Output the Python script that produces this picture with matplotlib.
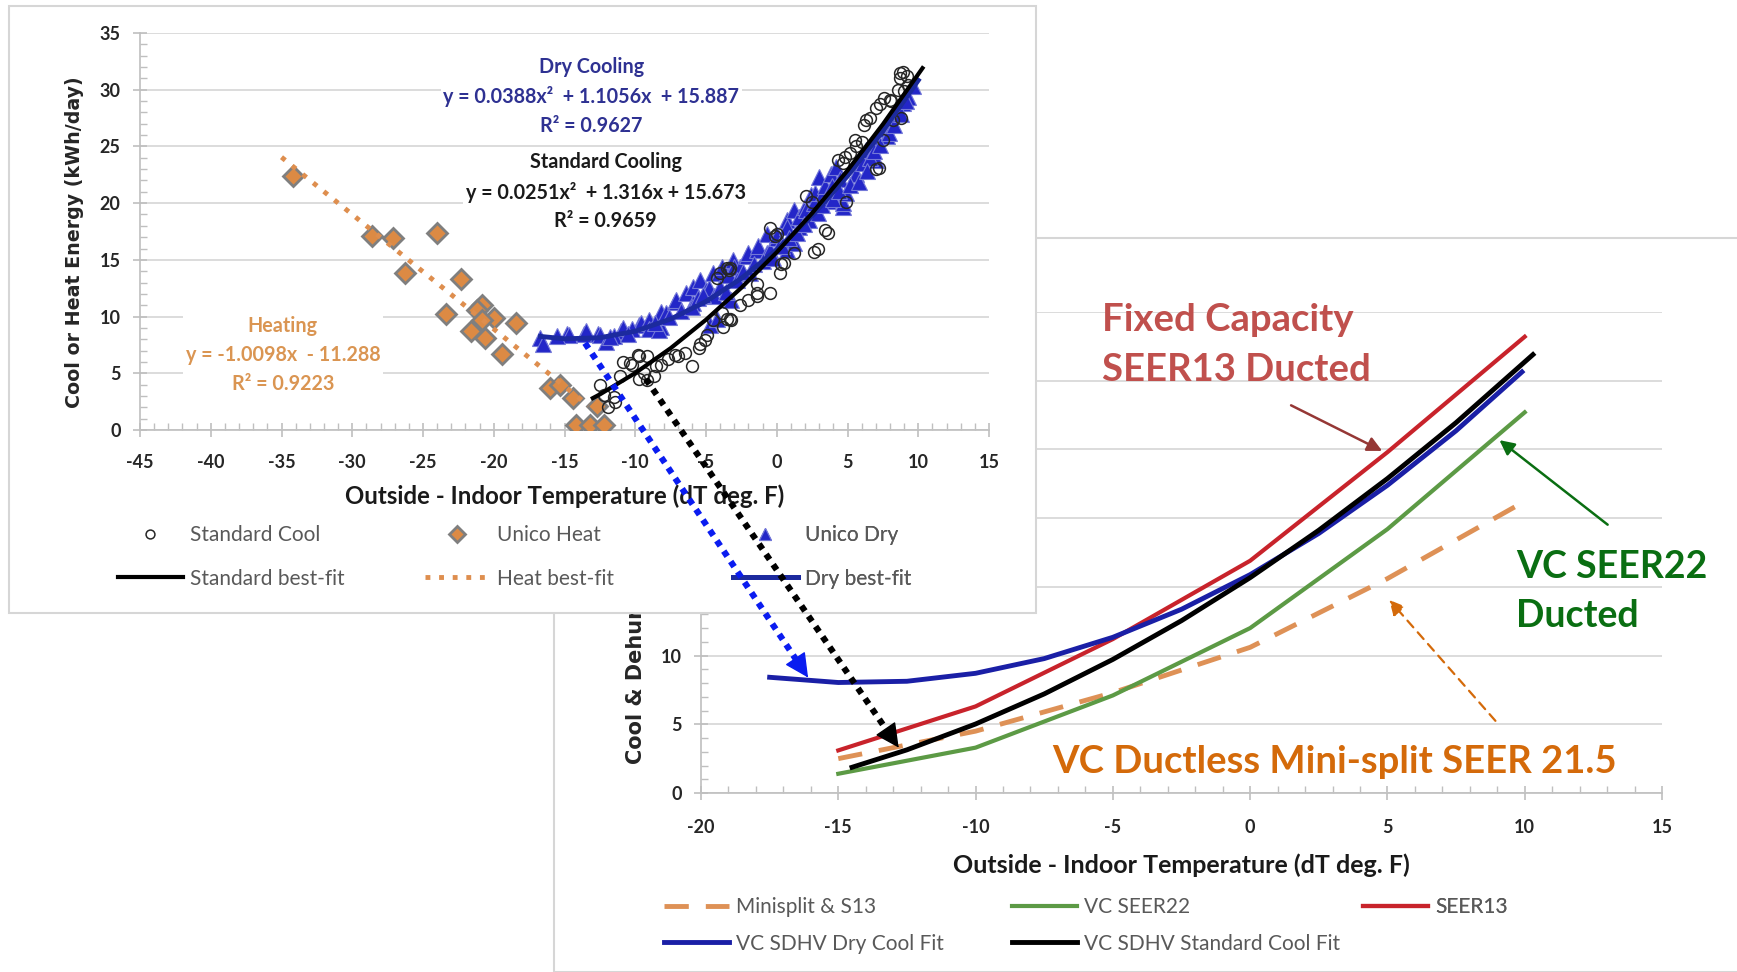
import numpy as np
import matplotlib
matplotlib.use("Agg")
import matplotlib.pyplot as plt
from matplotlib.patches import Rectangle, ConnectionPatch

plt.rcParams['font.family'] = ['Lato', 'DejaVu Sans']
plt.rcParams['axes.unicode_minus'] = False

# ---------------- left chart (measured data) ----------------
std_cool_x = [-12.5, -11.4, -11.5, -11.1, -10.9, -10.4, -10.2, -9.8, -9.7, -9.2, -9.7, -9.4,
              -9.2, -8.7, -8.5, -8.2, -7.7, -7.2, -7.0, -6.5, -6.0, -5.5, -5.4, -5.1, -4.9,
              -4.5, -3.9, -3.8, -3.5, -3.3, -3.2, -2.6, -2.0, -1.4, -1.4, -0.5, -1.4, -4.2,
              -4.0, -3.5, -3.4, -3.3, 0.2, 0.5, 0.3, 1.2, -0.5, -0.1, 0.0, 2.1, 2.5, 2.6,
              2.9, 3.4, 3.6, 4.3, 4.7, 4.8, 5.2, 5.5, 5.6, 6.0, 6.2, 6.3, 6.6, 7.0, 7.3,
              7.6, 8.0, 8.1, 8.2, 8.8, 7.5, 7.2, 7.0, 4.9, 8.6, 8.7, 8.9, 9.2, 9.3, 9.0, 8.7,
              -12.2, -11.9]
std_cool_y = [3.95, 2.5, 2.9, 4.8, 6.0, 5.9, 5.7, 6.6, 6.5, 6.5, 4.5, 5.0,
              4.4, 4.8, 5.6, 5.7, 6.3, 6.6, 6.5, 6.8, 5.6, 7.2, 7.6, 7.9, 8.4,
              9.7, 10.3, 9.1, 9.8, 9.8, 9.7, 11.0, 11.5, 11.8, 12.1, 12.1, 12.9, 13.4,
              13.8, 14.3, 14.1, 14.3, 13.8, 14.7, 14.6, 15.6, 17.8, 17.1, 17.3, 20.6, 20.1, 15.7,
              16.0, 17.6, 17.4, 23.8, 23.5, 24.1, 24.4, 25.6, 25.0, 25.4, 26.9, 27.3, 27.5, 28.4, 28.7,
              29.3, 29.1, 29.0, 27.3, 27.5, 25.6, 23.1, 23.0, 20.1, 30.0, 31.0, 31.6, 31.2, 30.4, 29.9, 31.5,
              3.1, 2.0]

dry_x = [-16.7, -16.5, -14.8, -14.7, -13.6, -13.5, -12.6, -12.5, -12.1, -11.0, -10.9, -9.7, -9.6,
         -9.0, -8.2, -8.2, -7.8, -7.2, -7.1, -6.4, -5.9, -5.4, -5.0, -4.8, -4.4, -4.5, -4.1, -3.9,
         -3.4, -3.2, -3.1, -3.0, -2.6, -2.1, -2.0, -1.9, -1.4, -1.3, -0.7, -0.7, -0.5, 0.0, 0.0,
         0.7, 0.7, 0.7, 1.2, 1.2, 1.6, 1.6, 2.0, 2.1, 2.3, 2.4, 2.6, 2.7, 3.0, 3.3, 3.4, 3.8,
         3.9, 4.2, 4.5, 4.7, 4.7, 4.9, 5.6, 6.1, 6.3, 6.8, 7.0, 7.5, 8.0, 8.5, 8.9, 9.3, 9.6,
         -6.8, -9.0, -11.5, -10.2, -8.3, -4.7, -4.2, -5.9, 0.3, 3.6, 6.6, 7.8,
         -6.0, -5.6, -5.2, -4.0, -3.6, -2.8, -2.4, -1.6, -1.0, -0.3, 0.4, 0.9, 1.4, 1.9,
         2.9, 3.2, 4.0, 4.4, 5.2, 5.8, 6.4, 6.9, 7.3, 7.9, 8.3, 8.8, 9.1, -7.6, -8.6,
         -10.5, -11.8, -15.5]
dry_y = [8.1, 7.6, 8.5, 8.4, 8.5, 8.7, 8.5, 8.4, 7.8, 8.7, 9.0, 9.3, 9.4,
         9.7, 9.1, 10.4, 10.3, 11.3, 11.5, 12.1, 12.6, 13.2, 12.3, 12.5, 11.8, 13.8, 13.8, 14.4,
         13.7, 11.5, 15.0, 14.4, 14.4, 15.3, 15.6, 13.8, 15.9, 16.2, 17.3, 15.6, 15.9, 16.9, 17.2,
         18.5, 17.9, 15.9, 19.4, 16.5, 17.9, 18.8, 19.7, 19.4, 18.5, 20.7, 20.0, 20.9, 22.3, 20.9, 21.5, 22.6,
         21.5, 23.2, 22.1, 19.7, 20.0, 20.9, 22.6, 23.5, 24.7, 25.3, 23.8, 26.5, 27.3, 28.2, 28.8, 29.4, 30.3,
         10.5, 8.9, 8.3, 8.9, 8.8, 9.3, 9.8, 11.2, 16.6, 20.2, 24.0, 25.9,
         10.8, 11.6, 11.9, 12.6, 12.2, 13.2, 13.9, 14.6, 14.9, 15.2, 16.2, 16.9, 17.4, 18.2,
         19.1, 19.8, 20.4, 21.1, 21.6, 21.9, 22.8, 24.6, 25.1, 26.2, 26.9, 27.9, 29.0, 10.0, 9.4,
         8.5, 8.2, 8.3]

heat_x = [-34.2, -28.6, -27.1, -24.0, -26.3, -22.3, -23.4, -20.8, -21.2, -20.0, -18.4, -21.6,
          -20.6, -20.8, -19.4, -16.0, -15.3, -14.4, -14.2, -13.2, -12.2, -12.7]
heat_y = [22.4, 17.1, 16.9, 17.4, 13.8, 13.3, 10.2, 11.0, 10.6, 9.9, 9.4, 8.7,
          8.1, 9.7, 6.7, 3.7, 4.0, 2.8, 0.4, 0.4, 0.4, 2.1]

std_fit_x = [-13, -12.5, -10, -7.5, -5, -2.5, 0, 2.5, 5, 7.5, 10.3]
std_fit_y = [2.81, 3.14, 5.02, 7.21, 9.72, 12.54, 15.67, 19.12, 22.88, 26.95, 31.9]
dry_fit_x = [-16.7, -15, -12.5, -10, -7.5, -5, -2.5, 0, 2.5, 5, 7.5, 10]
dry_fit_y = [8.25, 8.04, 8.13, 8.71, 9.78, 11.33, 13.37, 15.89, 18.89, 22.39, 26.36, 30.83]
heat_fit_x = [-35, -13.3]
heat_fit_y = [24.05, 2.14]

# ---------------- right chart ----------------
dT = [-15, -10, -5, 0, 5, 10]
seer13 = [3.1, 6.3, 11.2, 16.9, 24.8, 33.2]
vc_seer22 = [1.4, 3.3, 7.1, 12.0, 19.2, 27.7]
mini_dT = [-15, -10, -5, 0, 5, 9.8]
minisplit = [2.5, 4.5, 7.3, 10.6, 15.6, 21.0]
sdhv_dry_x = [-17.5, -15, -12.5, -10, -7.5, -5, -2.5, 0, 2.5, 5, 7.5, 9.9]
sdhv_dry_y = [8.42, 8.04, 8.13, 8.71, 9.78, 11.33, 13.37, 15.89, 18.89, 22.39, 26.36, 30.64]
sdhv_std_x = [-14.5, -12.5, -10, -7.5, -5, -2.5, 0, 2.5, 5, 7.5, 10.3]
sdhv_std_y = [1.87, 3.14, 5.02, 7.21, 9.72, 12.54, 15.67, 19.12, 22.88, 26.95, 31.9]

W, H = 1737, 972
fig = plt.figure(figsize=(W / 100, H / 100), dpi=100)
fig.patch.set_facecolor('white')


def px_rect(x0, y0, x1, y1):
    return [x0 / W, 1 - y1 / H, (x1 - x0) / W, (y1 - y0) / H]


def style(ax, xmin, xmax, xpad):
    ax.set_facecolor('none')
    ax.set_xlim(xmin, xmax)
    ax.set_ylim(0, 35)
    ax.set_xticks(range(xmin, xmax + 1, 5))
    ax.set_yticks(range(0, 36, 5))
    ax.set_xticks(range(xmin, xmax + 1), minor=True)
    ax.set_yticks(range(0, 36), minor=True)
    ax.grid(axis='y', color='#D9D9D9', lw=1.3)
    ax.set_axisbelow(True)
    for s in ['top', 'right']:
        ax.spines[s].set_visible(False)
    for s in ['left', 'bottom']:
        ax.spines[s].set_color('#BFBFBF')
        ax.spines[s].set_linewidth(1.2)
    ax.tick_params(which='major', direction='inout', length=10, color='#BFBFBF', width=1.2,
                   labelsize=13, labelcolor='#262626', pad=9)
    ax.tick_params(axis='x', which='major', pad=xpad)
    ax.tick_params(which='minor', direction='in', length=5, color='#BFBFBF', width=1)
    for lab in ax.get_xticklabels() + ax.get_yticklabels():
        lab.set_fontweight('bold')


# right panel (behind)
fig.add_artist(Rectangle((554 / W, 0), 1, (H - 238) / H, transform=fig.transFigure,
                         facecolor='white', edgecolor='#D6D6D6', lw=1.5, zorder=0.5))
ax_r = fig.add_axes(px_rect(701, 312, 1662, 793))
ax_r.set_zorder(1)
style(ax_r, -20, 15, 14)

l_mini, = ax_r.plot(mini_dT, minisplit, color='#DE9156', lw=3.5, dashes=(5, 3.5), label='Minisplit & S13')
l_s22, = ax_r.plot(dT, vc_seer22, color='#5C9A45', lw=3, label='VC SEER22')
l_s13, = ax_r.plot(dT, seer13, color='#C8232B', lw=3, label='SEER13')
l_dry, = ax_r.plot(sdhv_dry_x, sdhv_dry_y, color='#1A1FA6', lw=3.5, label='VC SDHV Dry Cool Fit')
l_std, = ax_r.plot(sdhv_std_x, sdhv_std_y, color='black', lw=3.5, label='VC SDHV Standard Cool Fit')

ax_r.set_xlabel('Outside - Indoor Temperature (dT deg. F)', fontsize=18, fontweight='bold',
                color='#1a1a1a', labelpad=12)
# most of this label sits behind the front chart, as in the source picture
ax_r.set_ylabel('Cool & Dehumidification Energy (kWh/day)', fontsize=15, fontweight='bold',
                family='DejaVu Sans', color='#262626', ha='left')
ax_r.yaxis.set_label_coords(-0.057, 0.06)

ax_r.text(-5.4, 34.45, 'Fixed Capacity', color='#C0504D', fontsize=27.5, fontweight='bold', va='center')
ax_r.text(-5.4, 30.75, 'SEER13 Ducted', color='#C0504D', fontsize=27.5, fontweight='bold', va='center')
ax_r.annotate('', xy=(4.9, 24.8), xytext=(1.4, 28.3),
              arrowprops=dict(arrowstyle='-|>', color='#953735', lw=1.8, mutation_scale=22))
ax_r.text(9.7, 16.45, 'VC SEER22', color='#0A6E12', fontsize=27, fontweight='bold', va='center')
ax_r.text(9.7, 12.85, 'Ducted', color='#0A6E12', fontsize=27, fontweight='bold', va='center')
ax_r.annotate('', xy=(9.0, 25.8), xytext=(13.1, 19.4), annotation_clip=False,
              arrowprops=dict(arrowstyle='-|>', color='#0A6E12', lw=1.8, mutation_scale=22))
ax_r.text(-7.2, 2.25, 'VC Ductless Mini-split SEER 21.5', color='#D46A0A', fontsize=27.5,
          fontweight='bold', va='center')
ax_r.annotate('', xy=(5.0, 14.2), xytext=(9.0, 5.1),
              arrowprops=dict(arrowstyle='-|>', color='#D46A0A', lw=1.6, ls=(0, (4, 3)),
                              mutation_scale=22))

leg_kw = dict(frameon=False, fontsize=15, labelcolor='#595959', handlelength=3.1,
              handletextpad=0.36, borderpad=0, borderaxespad=0,
              loc='upper left', bbox_transform=fig.transFigure)
cols_r = [([l_mini, l_dry], 664), ([l_s22, l_std], 1012), ([l_s13], 1363)]
for hs, xp in cols_r:
    lg = ax_r.legend(handles=hs, bbox_to_anchor=(xp / W, 1 - 897 / H), labelspacing=0.8, **leg_kw)
    ax_r.add_artist(lg)

# left panel (front)
fig.add_artist(Rectangle((9 / W, 1 - 613 / H), 1027 / W, 607 / H, transform=fig.transFigure,
                         facecolor='white', edgecolor='#D6D6D6', lw=1.5, zorder=2))
ax_l = fig.add_axes(px_rect(140, 33, 989, 430))
ax_l.set_zorder(3)
style(ax_l, -45, 15, 12)

h_heat, = ax_l.plot(heat_x, heat_y, ls='none', marker='D', ms=10.5, mfc='#DC8A44', mec='#7F7F7F',
                    mew=2, label='Unico Heat', zorder=3)
h_dry, = ax_l.plot(dry_x, dry_y, ls='none', marker='^', ms=11, mfc='#2326C8', mec='#7378D8',
                   mew=0.8, label='Unico Dry', zorder=4)
h_std, = ax_l.plot(std_cool_x, std_cool_y, ls='none', marker='o', ms=8.5, mfc='none', mec='#262626',
                   mew=1.1, label='Standard Cool', zorder=5)
f_heat, = ax_l.plot(heat_fit_x, heat_fit_y, color='#DE8E4E', lw=3.5, ls=(0, (1, 1.8)),
                    label='Heat best-fit', zorder=4)
f_dry, = ax_l.plot(dry_fit_x, dry_fit_y, color='#1C2A9E', lw=3.5, label='Dry best-fit', zorder=6)
f_std, = ax_l.plot(std_fit_x, std_fit_y, color='black', lw=3, label='Standard best-fit', zorder=7)

ax_l.set_xlabel('Outside - Indoor Temperature (dT deg. F)', fontsize=17.3, fontweight='bold',
                color='#1a1a1a', labelpad=10)
ax_l.set_ylabel('Cool or Heat Energy (kWh/day)', fontsize=13.7, fontweight='bold',
                family='DejaVu Sans', color='#262626')
ax_l.yaxis.set_label_coords(-0.066, 0.472)

box = dict(facecolor='white', edgecolor='none', pad=2)
lab_kw = dict(fontsize=14.2, fontweight='bold', ha='center', va='center', linespacing=1.55,
              bbox=box, zorder=2)
ax_l.text(-13.1, 29.4, 'Dry Cooling\ny = 0.0388x²  + 1.1056x  + 15.887\nR² = 0.9627',
          color='#2E3192', **lab_kw)
ax_l.text(-12.1, 21.0, 'Standard Cooling\ny = 0.0251x²  + 1.316x + 15.673\nR² = 0.9659',
          color='#1a1a1a', **lab_kw)
ax_l.text(-34.9, 6.6, 'Heating\ny = -1.0098x  - 11.288\nR² = 0.9223', color='#DA9552', **lab_kw)

cols_l = [([h_std, f_std], 118), ([h_heat, f_heat], 425), ([h_dry, f_dry], 733)]
for hs, xp in cols_l:
    lg = ax_l.legend(handles=hs, bbox_to_anchor=(xp / W, 1 - 525 / H), markerscale=0.75,
                     labelspacing=1.14, **leg_kw)
    ax_l.add_artist(lg)

# dotted arrows linking the two charts, with solid heads
for (xa, ya), (xb, yb), c in [((-13.55, 7.66), (-16.1, 8.4), '#0A1CF0'),
                              ((-9.25, 4.49), (-12.8, 3.3), 'black')]:
    con = ConnectionPatch(xyA=(xa, ya), coordsA=ax_l.transData, xyB=(xb, yb), coordsB=ax_r.transData,
                          arrowstyle='-', color=c, lw=4.5, ls=(0, (1, 1)), capstyle='butt',
                          shrinkA=0, shrinkB=12, zorder=6)
    fig.add_artist(con)
    pa = ax_l.transData.transform((xa, ya))
    pb = ax_r.transData.transform((xb, yb))
    d = (pb - pa) / np.hypot(*(pb - pa))
    start = pb - d * 2
    head = ConnectionPatch(xyA=(start[0], start[1]), coordsA='figure pixels', xyB=(xb, yb),
                           coordsB=ax_r.transData, arrowstyle='-|>', color=c, lw=1,
                           shrinkA=0, shrinkB=0, mutation_scale=38, zorder=6)
    fig.add_artist(head)

fig.savefig('out.png', dpi=100, facecolor='white')
